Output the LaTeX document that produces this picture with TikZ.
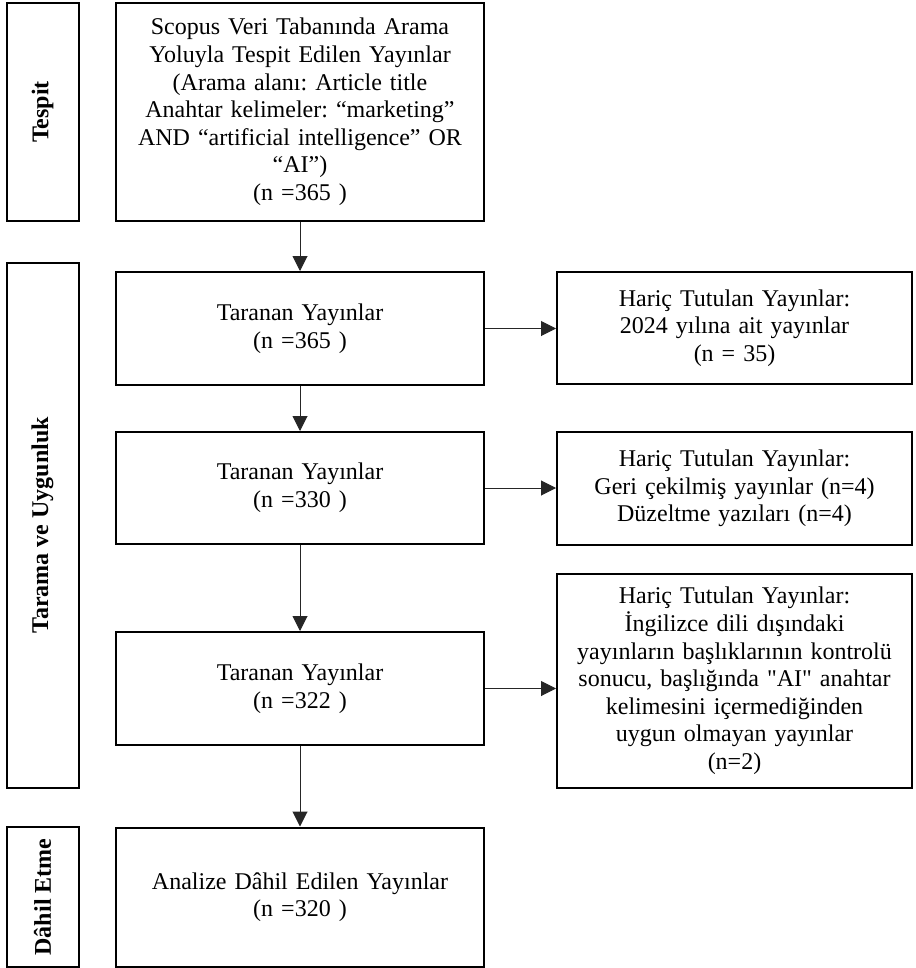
\documentclass[tikz,border=0pt]{standalone}
\usepackage{fontspec}
\setmainfont{Liberation Serif}[Ligatures=TeXOff]
\frenchspacing
\usetikzlibrary{arrows.meta,calc}
\tikzset{
  box/.style={draw=black,line width=2pt,align=center,inner sep=0pt,
    font=\fontsize{24}{27.6}\selectfont,text width=#1},
  box/.default={340pt},
  phase/.style={draw=black,line width=2pt,inner sep=0pt,rotate=90,
    font=\fontsize{24}{27.6}\selectfont\bfseries},
  conn/.style={line width=1pt,draw=black!85,-{Triangle[length=15pt,width=15pt]}}
}
\begin{document}
\begin{tikzpicture}[x=1pt,y=-1pt]
\useasboundingbox (0,0) rectangle (915,968);
% phase labels
\node[phase,minimum width=218pt,minimum height=72pt] (tespit) at (42.5,112) {Tespit};
\node[phase,minimum width=525pt,minimum height=72pt] (tarama) at (42.5,525.5) {Tarama ve Uygunluk};
\node[phase,minimum width=140pt,minimum height=72pt] (dahil) at (42.5,897) {Dâhil Etme};
% main boxes
\node[box,minimum width=368pt,minimum height=218pt] (b1) at (300,112)
  {Scopus Veri Tabanında Arama\\Yoluyla Tespit Edilen Yayınlar\\(Arama alanı: Article title\\Anahtar kelimeler: “marketing”\\AND “artificial intelligence” OR\\“AI”)\\(n =365 )};
\node[box,minimum width=368pt,minimum height=113pt] (b2) at (300,328.5)
  {Taranan Yayınlar\\(n =365 )};
\node[box,minimum width=368pt,minimum height=112pt] (b3) at (300,488)
  {Taranan Yayınlar\\(n =330 )};
\node[box,minimum width=368pt,minimum height=113pt] (b4) at (300,688.5)
  {Taranan Yayınlar\\(n =322 )};
\node[box,minimum width=368pt,minimum height=139pt] (b5) at (300,897)
  {Analize Dâhil Edilen Yayınlar\\(n =320 )};
% right boxes
\node[box=330pt,minimum width=355pt,minimum height=112pt] (r1) at (734.5,328)
  {Hariç Tutulan Yayınlar:\\2024 yılına ait yayınlar\\(n = 35)};
\node[box=330pt,minimum width=355pt,minimum height=113pt] (r2) at (734.5,488.5)
  {Hariç Tutulan Yayınlar:\\Geri çekilmiş yayınlar (n=4)\\Düzeltme yazıları (n=4)};
\node[box=330pt,minimum width=355pt,minimum height=214pt] (r3) at (734.5,681)
  {Hariç Tutulan Yayınlar:\\İngilizce dili dışındaki\\yayınların başlıklarının kontrolü\\sonucu, başlığında "AI" anahtar\\kelimesini içermediğinden\\uygun olmayan yayınlar\\(n=2)};
% connectors
\draw[conn] (b1) -- (b2);
\draw[conn] (b2) -- (b3);
\draw[conn] (b3) -- (b4);
\draw[conn] (b4) -- (b5);
\draw[conn] (b2.east) -- (b2.east -| r1.west);
\draw[conn] (b3.east) -- (b3.east -| r2.west);
\draw[conn] (b4.east) -- (b4.east -| r3.west);
\end{tikzpicture}
\end{document}
